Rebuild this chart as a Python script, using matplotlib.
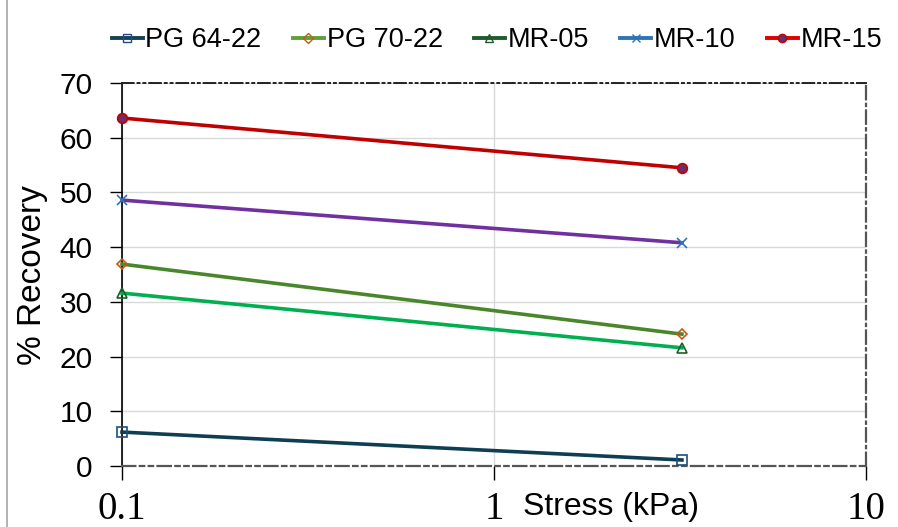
import matplotlib
matplotlib.use("Agg")
import matplotlib.pyplot as plt
from matplotlib.lines import Line2D
from matplotlib.ticker import FixedLocator, NullLocator, FixedFormatter

# Data
stress = [0.1, 3.2]
series_names = ["PG 64-22", "PG 70-22", "MR-05", "MR-10", "MR-15"]
pg64_22 = [6.2, 1.1]
pg70_22 = [36.9, 24.1]
mr_05 = [31.6, 21.6]
mr_10 = [48.6, 40.8]
mr_15 = [63.6, 54.5]
x_ticks = [0.1, 1, 10]
x_tick_labels = ["0.1", "1", "10"]
y_ticks = [0, 10, 20, 30, 40, 50, 60, 70]

series_values = [pg64_22, pg70_22, mr_05, mr_10, mr_15]

# Styles
line_colors = ["#0f3d52", "#4a862c", "#00b050", "#7030a0", "#c00000"]
legend_line_colors = ["#17415a", "#5fa03c", "#1f5c2e", "#2e75b6", "#e00000"]
markers = ["s", "D", "^", "x", "o"]
marker_edges = ["#1f4e79", "#c55a11", "#1e5c2a", "#2e75b6", "#c00000"]
marker_faces = ["none", "none", "none", "#2e75b6", "#6b2d6b"]
marker_sizes = [6.5, 5.5, 7, 7, 7]

fig = plt.figure(figsize=(8.98, 5.27), dpi=100)
ax = fig.add_axes([122 / 898, 1 - 466 / 527, (866 - 122) / 898, (466 - 83) / 527])

for vals, lc, mk, me, mf, ms in zip(series_values, line_colors, markers,
                                     marker_edges, marker_faces, marker_sizes):
    ax.plot(stress, vals, color=lc, lw=2.6, marker=mk, markersize=ms,
            markeredgecolor=me, markerfacecolor=mf, markeredgewidth=1.2,
            zorder=3, clip_on=False)

ax.set_xscale("log")
ax.set_xlim(0.1, 10)
ax.set_ylim(0, 70)
ax.xaxis.set_major_locator(FixedLocator(x_ticks))
ax.xaxis.set_major_formatter(FixedFormatter(x_tick_labels))
ax.xaxis.set_minor_locator(NullLocator())
ax.set_yticks(y_ticks)

ax.grid(True, which="major", color="#d9d9d9", lw=1.0, zorder=0)
ax.set_axisbelow(True)

ax.tick_params(axis="y", direction="out", length=9, width=1.0, pad=12,
               labelsize=21.5, colors="black")
ax.tick_params(axis="x", direction="out", length=10, width=1.0, pad=8,
               labelsize=28, colors="black")
for lbl in ax.get_yticklabels():
    lbl.set_fontfamily("Liberation Sans")
for lbl in ax.get_xticklabels():
    lbl.set_fontfamily("Liberation Serif")

ax.spines["left"].set_color("black")
ax.spines["left"].set_linewidth(1.2)
ax.spines["bottom"].set_color("#555555")
ax.spines["bottom"].set_linewidth(1.6)
ax.spines["bottom"].set_linestyle((0, (6, 2, 2, 2, 2, 2)))
ax.spines["top"].set_color("#222222")
ax.spines["top"].set_linewidth(1.4)
ax.spines["top"].set_linestyle((0, (6, 2, 1, 2, 1, 2)))
ax.spines["right"].set_color("#555555")
ax.spines["right"].set_linewidth(1.6)
ax.spines["right"].set_linestyle((0, (6, 2, 1, 2)))

fig.text(33 / 898, 1 - 275 / 527, "% Recovery", fontsize=24, rotation=90,
         family="Liberation Sans", ha="center", va="center")

fig.text(611 / 898, 1 - 507 / 527, "Stress (kPa)", fontsize=23,
         family="Liberation Sans", ha="center", va="center")

handles = [Line2D([], [], color=lc, lw=2.8, marker=mk, markersize=ms * 0.85,
                  markeredgecolor=me, markerfacecolor=mf, markeredgewidth=1.0)
           for lc, mk, me, mf, ms in zip(legend_line_colors, markers,
                                         marker_edges, marker_faces, marker_sizes)]
fig.legend(handles, series_names, loc="center", bbox_to_anchor=(497 / 898, 1 - 40 / 527),
           ncol=5, frameon=False, prop={"family": "Liberation Sans", "size": 19.5},
           handlelength=1.15, handletextpad=0.1, columnspacing=1.15,
           borderaxespad=0, borderpad=0)

# Chart-area border on the left edge
fig.add_artist(Line2D([7 / 898, 7 / 898], [0, 1], transform=fig.transFigure,
                      color="#a6a6a6", lw=1.2))

fig.savefig("out.png", dpi=100)
